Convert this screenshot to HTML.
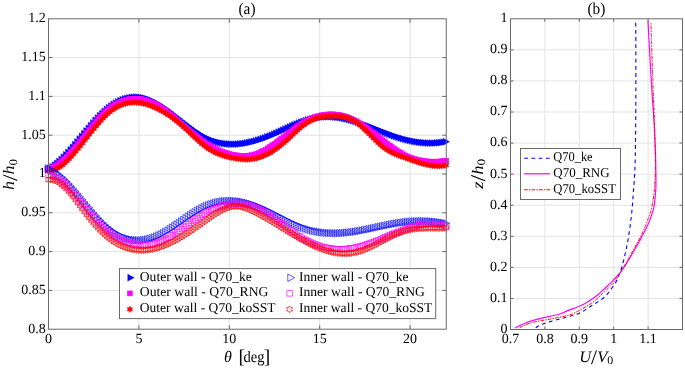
<!DOCTYPE html><html><head><meta charset="utf-8"><style>html,body{margin:0;padding:0;background:#fff;width:685px;height:368px;overflow:hidden}svg{display:block;will-change:transform}text{font-family:"Liberation Serif",serif;fill:#000;text-rendering:geometricPrecision}</style></head><body>
<svg width="685" height="368" viewBox="0 0 685 368">
<defs><marker id="mtf" markerUnits="userSpaceOnUse" markerWidth="1" markerHeight="1" refX="0" refY="0" overflow="visible"><polygon points="-3.20,-3.40 3.20,0 -3.20,3.40" fill="#0000ff" stroke="#0000ff" stroke-width="0.5"/></marker><marker id="msf" markerUnits="userSpaceOnUse" markerWidth="1" markerHeight="1" refX="0" refY="0" overflow="visible"><rect x="-2.5" y="-2.5" width="5.0" height="5.0" fill="#ff00ff" stroke="#ff00ff" stroke-width="0.5"/></marker><marker id="mhf" markerUnits="userSpaceOnUse" markerWidth="1" markerHeight="1" refX="0" refY="0" overflow="visible"><polygon points="0.00,-3.20 0.90,-1.56 2.77,-1.60 1.80,0.00 2.77,1.60 0.90,1.56 0.00,3.20 -0.90,1.56 -2.77,1.60 -1.80,0.00 -2.77,-1.60 -0.90,-1.56" fill="#ff0000" stroke="#ff0000" stroke-width="0.5"/></marker><marker id="mto" markerUnits="userSpaceOnUse" markerWidth="1" markerHeight="1" refX="0" refY="0" overflow="visible"><polygon points="-3.40,-3.70 3.40,0 -3.40,3.70" fill="none" stroke="#0000ff" stroke-width="0.65"/></marker><marker id="mso" markerUnits="userSpaceOnUse" markerWidth="1" markerHeight="1" refX="0" refY="0" overflow="visible"><rect x="-2.7" y="-2.7" width="5.4" height="5.4" fill="none" stroke="#ff00ff" stroke-width="0.65"/></marker><marker id="mho" markerUnits="userSpaceOnUse" markerWidth="1" markerHeight="1" refX="0" refY="0" overflow="visible"><polygon points="0.00,-3.50 1.00,-1.73 3.03,-1.75 2.00,0.00 3.03,1.75 1.00,1.73 0.00,3.50 -1.00,1.73 -3.03,1.75 -2.00,0.00 -3.03,-1.75 -1.00,-1.73" fill="none" stroke="#ff0000" stroke-width="0.65"/></marker><clipPath id="ca"><rect x="44" y="14" width="407" height="320"/></clipPath></defs>
<rect width="685" height="368" fill="#fff"/>
<path d="M138.90,18.80V329.20M229.30,18.80V329.20M319.70,18.80V329.20M410.10,18.80V329.20M48.50,290.40H446.26M48.50,251.60H446.26M48.50,212.80H446.26M48.50,174.00H446.26M48.50,135.20H446.26M48.50,96.40H446.26M48.50,57.60H446.26" stroke="#e3e3e3" stroke-width="1" fill="none"/>
<polyline points="48.50,169.45 50.76,168.24 53.02,166.82 55.28,165.22 57.54,163.43 59.80,161.49 62.06,159.40 64.32,157.18 66.58,154.84 68.84,152.40 71.10,149.88 73.36,147.28 75.62,144.62 77.88,141.92 80.14,139.19 82.40,136.44 84.66,133.70 86.92,130.97 89.18,128.28 91.44,125.62 93.70,123.03 95.96,120.51 98.22,118.08 100.48,115.75 102.74,113.54 105.00,111.47 107.26,109.52 109.52,107.72 111.78,106.05 114.04,104.52 116.30,103.13 118.56,101.88 120.82,100.77 123.08,99.80 125.34,98.98 127.60,98.31 129.86,97.78 132.12,97.40 134.38,97.17 136.64,97.09 138.90,97.16 141.16,97.38 143.42,97.76 145.68,98.29 147.94,98.98 150.20,99.80 152.46,100.76 154.72,101.85 156.98,103.04 159.24,104.34 161.50,105.73 163.76,107.21 166.02,108.76 168.28,110.37 170.54,112.04 172.80,113.75 175.06,115.49 177.32,117.26 179.58,119.03 181.84,120.82 184.10,122.59 186.36,124.35 188.62,126.09 190.88,127.79 193.14,129.44 195.40,131.03 197.66,132.56 199.92,134.01 202.18,135.38 204.44,136.65 206.70,137.82 208.96,138.87 211.22,139.83 213.48,140.68 215.74,141.43 218.00,142.09 220.26,142.65 222.52,143.12 224.78,143.49 227.04,143.79 229.30,143.99 231.56,144.12 233.82,144.17 236.08,144.13 238.34,144.03 240.60,143.85 242.86,143.60 245.12,143.29 247.38,142.91 249.64,142.47 251.90,141.97 254.16,141.41 256.42,140.80 258.68,140.13 260.94,139.42 263.20,138.66 265.46,137.86 267.72,137.01 269.98,136.12 272.24,135.20 274.50,134.24 276.76,133.25 279.02,132.23 281.28,131.20 283.54,130.15 285.80,129.10 288.06,128.05 290.32,127.02 292.58,126.00 294.84,125.00 297.10,124.04 299.36,123.11 301.62,122.24 303.88,121.41 306.14,120.65 308.40,119.95 310.66,119.32 312.92,118.75 315.18,118.26 317.44,117.83 319.70,117.47 321.96,117.18 324.22,116.97 326.48,116.83 328.74,116.76 331.00,116.76 333.26,116.84 335.52,117.00 337.78,117.23 340.04,117.54 342.30,117.91 344.56,118.35 346.82,118.84 349.08,119.40 351.34,120.00 353.60,120.65 355.86,121.35 358.12,122.08 360.38,122.85 362.64,123.65 364.90,124.48 367.16,125.33 369.42,126.20 371.68,127.08 373.94,127.98 376.20,128.88 378.46,129.78 380.72,130.68 382.98,131.58 385.24,132.46 387.50,133.33 389.76,134.18 392.02,135.01 394.28,135.81 396.54,136.59 398.80,137.32 401.06,138.03 403.32,138.69 405.58,139.32 407.84,139.91 410.10,140.45 412.36,140.95 414.62,141.40 416.88,141.80 419.14,142.16 421.40,142.46 423.66,142.70 425.92,142.89 428.18,143.02 430.44,143.09 432.70,143.10 434.96,143.05 437.22,142.93 439.48,142.74 441.74,142.48 444.00,142.15 446.26,141.75" fill="none" stroke="none" marker-start="url(#mtf)" marker-mid="url(#mtf)" marker-end="url(#mtf)"/>
<polyline points="48.50,168.94 50.76,168.25 53.02,167.30 55.28,166.09 57.54,164.64 59.80,162.98 62.06,161.12 64.32,159.08 66.58,156.87 68.84,154.52 71.10,152.05 73.36,149.47 75.62,146.80 77.88,144.06 80.14,141.26 82.40,138.43 84.66,135.59 86.92,132.75 89.18,129.93 91.44,127.15 93.70,124.43 95.96,121.78 98.22,119.23 100.48,116.78 102.74,114.48 105.00,112.31 107.26,110.32 109.52,108.49 111.78,106.82 114.04,105.32 116.30,103.97 118.56,102.78 120.82,101.75 123.08,100.88 125.34,100.15 127.60,99.58 129.86,99.15 132.12,98.87 134.38,98.74 136.64,98.75 138.90,98.90 141.16,99.19 143.42,99.62 145.68,100.18 147.94,100.87 150.20,101.70 152.46,102.66 154.72,103.74 156.98,104.95 159.24,106.28 161.50,107.71 163.76,109.25 166.02,110.87 168.28,112.56 170.54,114.33 172.80,116.15 175.06,118.02 177.32,119.93 179.58,121.87 181.84,123.82 184.10,125.78 186.36,127.75 188.62,129.70 190.88,131.63 193.14,133.53 195.40,135.39 197.66,137.20 199.92,138.95 202.18,140.63 204.44,142.22 206.70,143.73 208.96,145.15 211.22,146.48 213.48,147.71 215.74,148.86 218.00,149.92 220.26,150.89 222.52,151.78 224.78,152.58 227.04,153.29 229.30,153.93 231.56,154.48 233.82,154.95 236.08,155.33 238.34,155.64 240.60,155.85 242.86,155.95 245.12,155.94 247.38,155.82 249.64,155.56 251.90,155.16 254.16,154.61 256.42,153.90 258.68,153.04 260.94,152.04 263.20,150.90 265.46,149.65 267.72,148.30 269.98,146.85 272.24,145.32 274.50,143.72 276.76,142.07 279.02,140.37 281.28,138.64 283.54,136.90 285.80,135.14 288.06,133.39 290.32,131.66 292.58,129.95 294.84,128.29 297.10,126.69 299.36,125.15 301.62,123.69 303.88,122.32 306.14,121.05 308.40,119.89 310.66,118.84 312.92,117.90 315.18,117.08 317.44,116.36 319.70,115.75 321.96,115.25 324.22,114.86 326.48,114.58 328.74,114.42 331.00,114.36 333.26,114.41 335.52,114.58 337.78,114.85 340.04,115.24 342.30,115.73 344.56,116.34 346.82,117.06 349.08,117.89 351.34,118.83 353.60,119.88 355.86,121.04 358.12,122.31 360.38,123.67 362.64,125.12 364.90,126.65 367.16,128.25 369.42,129.90 371.68,131.59 373.94,133.32 376.20,135.08 378.46,136.85 380.72,138.63 382.98,140.40 385.24,142.15 387.50,143.88 389.76,145.57 392.02,147.22 394.28,148.80 396.54,150.33 398.80,151.77 401.06,153.13 403.32,154.39 405.58,155.54 407.84,156.58 410.10,157.50 412.36,158.33 414.62,159.05 416.88,159.67 419.14,160.21 421.40,160.65 423.66,161.01 425.92,161.29 428.18,161.49 430.44,161.62 432.70,161.69 434.96,161.69 437.22,161.63 439.48,161.51 441.74,161.35 444.00,161.14 446.26,160.88" fill="none" stroke="none" marker-start="url(#msf)" marker-mid="url(#msf)" marker-end="url(#msf)"/>
<polyline points="48.50,171.31 50.76,170.97 53.02,170.33 55.28,169.41 57.54,168.22 59.80,166.78 62.06,165.12 64.32,163.25 66.58,161.19 68.84,158.96 71.10,156.59 73.36,154.08 75.62,151.46 77.88,148.75 80.14,145.97 82.40,143.14 84.66,140.27 86.92,137.39 89.18,134.51 91.44,131.66 93.70,128.85 95.96,126.10 98.22,123.43 100.48,120.87 102.74,118.43 105.00,116.12 107.26,113.98 109.52,112.01 111.78,110.24 114.04,108.67 116.30,107.28 118.56,106.08 120.82,105.07 123.08,104.22 125.34,103.54 127.60,103.03 129.86,102.66 132.12,102.45 134.38,102.39 136.64,102.46 138.90,102.66 141.16,102.99 143.42,103.44 145.68,104.01 147.94,104.68 150.20,105.46 152.46,106.33 154.72,107.30 156.98,108.35 159.24,109.48 161.50,110.70 163.76,112.00 166.02,113.38 168.28,114.84 170.54,116.38 172.80,118.00 175.06,119.69 177.32,121.46 179.58,123.31 181.84,125.23 184.10,127.22 186.36,129.28 188.62,131.40 190.88,133.55 193.14,135.71 195.40,137.85 197.66,139.94 199.92,141.96 202.18,143.89 204.44,145.69 206.70,147.36 208.96,148.87 211.22,150.25 213.48,151.49 215.74,152.61 218.00,153.62 220.26,154.51 222.52,155.31 224.78,156.02 227.04,156.64 229.30,157.19 231.56,157.67 233.82,158.10 236.08,158.47 238.34,158.78 240.60,159.04 242.86,159.22 245.12,159.31 247.38,159.32 249.64,159.21 251.90,159.00 254.16,158.66 256.42,158.19 258.68,157.58 260.94,156.84 263.20,155.97 265.46,154.97 267.72,153.86 269.98,152.62 272.24,151.27 274.50,149.80 276.76,148.23 279.02,146.55 281.28,144.77 283.54,142.89 285.80,140.92 288.06,138.86 290.32,136.76 292.58,134.63 294.84,132.52 297.10,130.45 299.36,128.46 301.62,126.58 303.88,124.83 306.14,123.26 308.40,121.86 310.66,120.64 312.92,119.58 315.18,118.67 317.44,117.91 319.70,117.29 321.96,116.79 324.22,116.41 326.48,116.14 328.74,115.97 331.00,115.89 333.26,115.89 335.52,115.96 337.78,116.11 340.04,116.34 342.30,116.68 344.56,117.15 346.82,117.76 349.08,118.54 351.34,119.51 353.60,120.68 355.86,122.08 358.12,123.70 360.38,125.51 362.64,127.48 364.90,129.57 367.16,131.76 369.42,134.00 371.68,136.26 373.94,138.52 376.20,140.73 378.46,142.86 380.72,144.89 382.98,146.77 385.24,148.48 387.50,149.99 389.76,151.33 392.02,152.51 394.28,153.56 396.54,154.52 398.80,155.39 401.06,156.22 403.32,157.01 405.58,157.81 407.84,158.62 410.10,159.43 412.36,160.23 414.62,161.02 416.88,161.79 419.14,162.52 421.40,163.20 423.66,163.84 425.92,164.41 428.18,164.91 430.44,165.33 432.70,165.66 434.96,165.89 437.22,166.01 439.48,166.02 441.74,165.89 444.00,165.63 446.26,165.22" fill="none" stroke="none" marker-start="url(#mhf)" marker-mid="url(#mhf)" marker-end="url(#mhf)"/>
<polyline points="48.50,168.40 50.76,169.34 53.02,170.50 55.28,171.88 57.54,173.45 59.80,175.21 62.06,177.13 64.32,179.21 66.58,181.43 68.84,183.76 71.10,186.20 73.36,188.73 75.62,191.33 77.88,194.00 80.14,196.70 82.40,199.43 84.66,202.17 86.92,204.91 89.18,207.63 91.44,210.32 93.70,212.95 95.96,215.52 98.22,218.00 100.48,220.39 102.74,222.66 105.00,224.80 107.26,226.81 109.52,228.67 111.78,230.38 114.04,231.96 116.30,233.40 118.56,234.69 120.82,235.85 123.08,236.87 125.34,237.76 127.60,238.51 129.86,239.12 132.12,239.61 134.38,239.96 136.64,240.18 138.90,240.28 141.16,240.24 143.42,240.08 145.68,239.79 147.94,239.38 150.20,238.84 152.46,238.18 154.72,237.39 156.98,236.49 159.24,235.48 161.50,234.36 163.76,233.15 166.02,231.86 168.28,230.50 170.54,229.08 172.80,227.60 175.06,226.09 177.32,224.54 179.58,222.97 181.84,221.39 184.10,219.81 186.36,218.23 188.62,216.67 190.88,215.15 193.14,213.66 195.40,212.22 197.66,210.84 199.92,209.52 202.18,208.29 204.44,207.14 206.70,206.10 208.96,205.15 211.22,204.30 213.48,203.55 215.74,202.89 218.00,202.33 220.26,201.87 222.52,201.49 224.78,201.20 227.04,201.00 229.30,200.89 231.56,200.86 233.82,200.92 236.08,201.06 238.34,201.27 240.60,201.57 242.86,201.94 245.12,202.40 247.38,202.92 249.64,203.52 251.90,204.19 254.16,204.92 256.42,205.73 258.68,206.60 260.94,207.53 263.20,208.51 265.46,209.53 267.72,210.59 269.98,211.69 272.24,212.81 274.50,213.95 276.76,215.11 279.02,216.27 281.28,217.44 283.54,218.60 285.80,219.75 288.06,220.89 290.32,222.00 292.58,223.09 294.84,224.14 297.10,225.14 299.36,226.10 301.62,227.01 303.88,227.86 306.14,228.64 308.40,229.35 310.66,230.00 312.92,230.58 315.18,231.10 317.44,231.56 319.70,231.96 321.96,232.30 324.22,232.58 326.48,232.81 328.74,232.99 331.00,233.11 333.26,233.19 335.52,233.22 337.78,233.20 340.04,233.14 342.30,233.03 344.56,232.89 346.82,232.70 349.08,232.48 351.34,232.22 353.60,231.93 355.86,231.60 358.12,231.25 360.38,230.87 362.64,230.46 364.90,230.03 367.16,229.59 369.42,229.13 371.68,228.66 373.94,228.18 376.20,227.69 378.46,227.20 380.72,226.71 382.98,226.22 385.24,225.74 387.50,225.26 389.76,224.80 392.02,224.36 394.28,223.93 396.54,223.52 398.80,223.14 401.06,222.78 403.32,222.45 405.58,222.16 407.84,221.90 410.10,221.68 412.36,221.49 414.62,221.34 416.88,221.22 419.14,221.14 421.40,221.11 423.66,221.10 425.92,221.14 428.18,221.22 430.44,221.34 432.70,221.50 434.96,221.69 437.22,221.93 439.48,222.22 441.74,222.54 444.00,222.91 446.26,223.32" fill="none" stroke="none" marker-start="url(#mto)" marker-mid="url(#mto)" marker-end="url(#mto)"/>
<polyline points="48.50,174.91 50.76,175.31 53.02,176.02 55.28,177.00 57.54,178.25 59.80,179.74 62.06,181.46 64.32,183.37 66.58,185.47 68.84,187.73 71.10,190.13 73.36,192.65 75.62,195.27 77.88,197.98 80.14,200.75 82.40,203.56 84.66,206.39 86.92,209.22 89.18,212.04 91.44,214.82 93.70,217.53 95.96,220.17 98.22,222.72 100.48,225.14 102.74,227.42 105.00,229.55 107.26,231.50 109.52,233.29 111.78,234.91 114.04,236.37 116.30,237.69 118.56,238.87 120.82,239.92 123.08,240.84 125.34,241.66 127.60,242.36 129.86,242.97 132.12,243.48 134.38,243.91 136.64,244.27 138.90,244.55 141.16,244.74 143.42,244.83 145.68,244.82 147.94,244.70 150.20,244.46 152.46,244.10 154.72,243.59 156.98,242.95 159.24,242.17 161.50,241.26 163.76,240.24 166.02,239.12 168.28,237.89 170.54,236.59 172.80,235.21 175.06,233.76 177.32,232.26 179.58,230.71 181.84,229.14 184.10,227.53 186.36,225.91 188.62,224.29 190.88,222.68 193.14,221.08 195.40,219.51 197.66,217.97 199.92,216.48 202.18,215.05 204.44,213.69 206.70,212.40 208.96,211.19 211.22,210.07 213.48,209.03 215.74,208.08 218.00,207.21 220.26,206.44 222.52,205.76 224.78,205.17 227.04,204.68 229.30,204.29 231.56,204.00 233.82,203.80 236.08,203.71 238.34,203.73 240.60,203.85 242.86,204.08 245.12,204.41 247.38,204.86 249.64,205.43 251.90,206.11 254.16,206.91 256.42,207.82 258.68,208.85 260.94,209.98 263.20,211.21 265.46,212.53 267.72,213.92 269.98,215.38 272.24,216.89 274.50,218.45 276.76,220.06 279.02,221.69 281.28,223.34 283.54,225.00 285.80,226.67 288.06,228.33 290.32,229.97 292.58,231.58 294.84,233.16 297.10,234.69 299.36,236.17 301.62,237.58 303.88,238.92 306.14,240.18 308.40,241.35 310.66,242.44 312.92,243.44 315.18,244.36 317.44,245.19 319.70,245.94 321.96,246.61 324.22,247.20 326.48,247.70 328.74,248.13 331.00,248.48 333.26,248.76 335.52,248.95 337.78,249.07 340.04,249.12 342.30,249.09 344.56,248.99 346.82,248.81 349.08,248.57 351.34,248.25 353.60,247.86 355.86,247.41 358.12,246.89 360.38,246.31 362.64,245.67 364.90,244.97 367.16,244.23 369.42,243.45 371.68,242.63 373.94,241.78 376.20,240.90 378.46,240.00 380.72,239.08 382.98,238.14 385.24,237.20 387.50,236.25 389.76,235.31 392.02,234.37 394.28,233.44 396.54,232.53 398.80,231.63 401.06,230.76 403.32,229.92 405.58,229.12 407.84,228.36 410.10,227.64 412.36,226.97 414.62,226.35 416.88,225.79 419.14,225.30 421.40,224.87 423.66,224.52 425.92,224.24 428.18,224.05 430.44,223.95 432.70,223.94 434.96,224.02 437.22,224.21 439.48,224.51 441.74,224.91 444.00,225.44 446.26,226.08" fill="none" stroke="none" marker-start="url(#mso)" marker-mid="url(#mso)" marker-end="url(#mso)"/>
<polyline points="48.50,179.72 50.76,179.53 53.02,179.80 55.28,180.49 57.54,181.57 59.80,182.99 62.06,184.73 64.32,186.76 66.58,189.03 68.84,191.51 71.10,194.17 73.36,196.97 75.62,199.88 77.88,202.86 80.14,205.88 82.40,208.90 84.66,211.89 86.92,214.82 89.18,217.67 91.44,220.43 93.70,223.10 95.96,225.66 98.22,228.11 100.48,230.45 102.74,232.66 105.00,234.73 107.26,236.67 109.52,238.46 111.78,240.12 114.04,241.64 116.30,243.03 118.56,244.29 120.82,245.42 123.08,246.42 125.34,247.30 127.60,248.06 129.86,248.70 132.12,249.23 134.38,249.64 136.64,249.94 138.90,250.12 141.16,250.21 143.42,250.18 145.68,250.06 147.94,249.83 150.20,249.51 152.46,249.09 154.72,248.58 156.98,247.98 159.24,247.29 161.50,246.52 163.76,245.67 166.02,244.74 168.28,243.75 170.54,242.68 172.80,241.55 175.06,240.37 177.32,239.12 179.58,237.83 181.84,236.49 184.10,235.10 186.36,233.68 188.62,232.22 190.88,230.73 193.14,229.21 195.40,227.66 197.66,226.10 199.92,224.52 202.18,222.93 204.44,221.33 206.70,219.73 208.96,218.13 211.22,216.57 213.48,215.05 215.74,213.59 218.00,212.21 220.26,210.93 222.52,209.77 224.78,208.74 227.04,207.87 229.30,207.16 231.56,206.64 233.82,206.32 236.08,206.23 238.34,206.36 240.60,206.69 242.86,207.19 245.12,207.85 247.38,208.65 249.64,209.56 251.90,210.57 254.16,211.65 256.42,212.78 258.68,213.96 260.94,215.17 263.20,216.42 265.46,217.70 267.72,219.00 269.98,220.33 272.24,221.68 274.50,223.05 276.76,224.43 279.02,225.82 281.28,227.21 283.54,228.60 285.80,230.00 288.06,231.38 290.32,232.76 292.58,234.13 294.84,235.47 297.10,236.80 299.36,238.11 301.62,239.38 303.88,240.63 306.14,241.84 308.40,243.01 310.66,244.14 312.92,245.23 315.18,246.26 317.44,247.24 319.70,248.17 321.96,249.03 324.22,249.83 326.48,250.57 328.74,251.23 331.00,251.81 333.26,252.32 335.52,252.75 337.78,253.09 340.04,253.34 342.30,253.49 344.56,253.55 346.82,253.51 349.08,253.36 351.34,253.11 353.60,252.74 355.86,252.26 358.12,251.67 360.38,250.97 362.64,250.18 364.90,249.31 367.16,248.36 369.42,247.35 371.68,246.28 373.94,245.17 376.20,244.03 378.46,242.86 380.72,241.68 382.98,240.50 385.24,239.32 387.50,238.16 389.76,237.02 392.02,235.92 394.28,234.87 396.54,233.87 398.80,232.94 401.06,232.09 403.32,231.32 405.58,230.64 407.84,230.07 410.10,229.58 412.36,229.19 414.62,228.86 416.88,228.61 419.14,228.42 421.40,228.27 423.66,228.18 425.92,228.12 428.18,228.09 430.44,228.07 432.70,228.08 434.96,228.08 437.22,228.09 439.48,228.08 441.74,228.05 444.00,228.00 446.26,227.91" fill="none" stroke="none" marker-start="url(#mho)" marker-mid="url(#mho)" marker-end="url(#mho)"/>
<path d="M138.90,329.20v-4M138.90,18.80v4M229.30,329.20v-4M229.30,18.80v4M319.70,329.20v-4M319.70,18.80v4M410.10,329.20v-4M410.10,18.80v4M48.50,290.40h4M446.26,290.40h-4M48.50,251.60h4M446.26,251.60h-4M48.50,212.80h4M446.26,212.80h-4M48.50,174.00h4M446.26,174.00h-4M48.50,135.20h4M446.26,135.20h-4M48.50,96.40h4M446.26,96.40h-4M48.50,57.60h4M446.26,57.60h-4" stroke="#6a6a6a" stroke-width="1" fill="none"/>
<rect x="48.50" y="18.80" width="397.76" height="310.40" stroke="#6a6a6a" stroke-width="1" fill="none"/>
<text x="48.5" y="343.4" font-size="14" text-anchor="middle">0</text>
<text x="138.9" y="343.4" font-size="14" text-anchor="middle">5</text>
<text x="229.3" y="343.4" font-size="14" text-anchor="middle">10</text>
<text x="319.7" y="343.4" font-size="14" text-anchor="middle">15</text>
<text x="410.1" y="343.4" font-size="14" text-anchor="middle">20</text>
<text x="45.8" y="332.5" font-size="14" text-anchor="end">0.8</text>
<text x="45.8" y="293.7" font-size="14" text-anchor="end">0.85</text>
<text x="45.8" y="254.9" font-size="14" text-anchor="end">0.9</text>
<text x="45.8" y="216.1" font-size="14" text-anchor="end">0.95</text>
<text x="45.8" y="177.3" font-size="14" text-anchor="end">1</text>
<text x="45.8" y="138.5" font-size="14" text-anchor="end">1.05</text>
<text x="45.8" y="99.7" font-size="14" text-anchor="end">1.1</text>
<text x="45.8" y="60.9" font-size="14" text-anchor="end">1.15</text>
<text x="45.8" y="22.1" font-size="14" text-anchor="end">1.2</text>
<text x="238.5" y="13.8" font-size="16.5" textLength="17" lengthAdjust="spacingAndGlyphs">(a)</text>
<text x="224" y="361.7" font-size="16" font-style="italic">θ</text>
<text x="238.6" y="362.7" font-size="19.5">[</text>
<text x="243.6" y="361.7" font-size="16" textLength="21" lengthAdjust="spacingAndGlyphs">deg</text>
<text x="263.8" y="362.7" font-size="19.5">]</text>
<text transform="translate(14.2,190) rotate(-90)" font-size="16" textLength="31" lengthAdjust="spacingAndGlyphs"><tspan font-style="italic">h</tspan><tspan font-size="21" dy="2.6">/</tspan><tspan font-style="italic" dy="-2.6">h</tspan><tspan font-size="11.5" dy="2.5">0</tspan></text>
<rect x="119.5" y="268.6" width="316.2" height="50" fill="#fff" stroke="#6a6a6a" stroke-width="1"/>
<polyline points="131,277.7 131.001,277.7" fill="none" stroke="none" marker-start="url(#mtf)"/>
<text x="139.8" y="280.5" font-size="13.5" textLength="112" lengthAdjust="spacingAndGlyphs">Outer wall - Q70_ke</text>
<polyline points="129.9,293.4 129.901,293.4" fill="none" stroke="none" marker-start="url(#msf)"/>
<text x="139.8" y="296.3" font-size="13.5" textLength="128.6" lengthAdjust="spacingAndGlyphs">Outer wall - Q70_RNG</text>
<polyline points="129.9,309.3 129.901,309.3" fill="none" stroke="none" marker-start="url(#mhf)"/>
<text x="139.8" y="312.1" font-size="13.5" textLength="135.8" lengthAdjust="spacingAndGlyphs">Outer wall - Q70_koSST</text>
<polyline points="291.2,277.7 291.20099999999996,277.7" fill="none" stroke="none" marker-start="url(#mto)"/>
<text x="298.9" y="280.5" font-size="13.5" textLength="109.7" lengthAdjust="spacingAndGlyphs">Inner wall - Q70_ke</text>
<polyline points="289.6,293.4 289.601,293.4" fill="none" stroke="none" marker-start="url(#mso)"/>
<text x="298.9" y="296.3" font-size="13.5" textLength="126" lengthAdjust="spacingAndGlyphs">Inner wall - Q70_RNG</text>
<polyline points="289.6,309.3 289.601,309.3" fill="none" stroke="none" marker-start="url(#mho)"/>
<text x="298.9" y="312.1" font-size="13.5" textLength="133.5" lengthAdjust="spacingAndGlyphs">Inner wall - Q70_koSST</text>
<path d="M544.90,18.80V329.50M579.30,18.80V329.50M613.70,18.80V329.50M648.10,18.80V329.50M510.50,298.43H682.50M510.50,267.36H682.50M510.50,236.29H682.50M510.50,205.22H682.50M510.50,174.15H682.50M510.50,143.08H682.50M510.50,112.01H682.50M510.50,80.94H682.50M510.50,49.87H682.50" stroke="#e3e3e3" stroke-width="1" fill="none"/>
<polyline points="535.78,327.79 537.12,326.77 538.95,325.74 541.15,324.71 543.64,323.69 546.44,322.66 550.05,321.63 553.86,320.61 557.65,319.58 561.51,318.56 565.24,317.53 568.96,316.50 572.68,315.48 576.06,314.45 578.78,313.43 580.97,312.40 582.90,311.37 584.64,310.35 586.23,309.32 587.74,308.29 589.21,307.27 590.71,306.24 592.28,305.22 593.93,304.19 595.63,303.16 597.33,302.14 599.00,301.11 600.60,300.09 602.09,299.06 603.44,298.03 604.60,297.01 605.64,295.98 606.58,294.95 607.46,293.93 608.28,292.90 609.07,291.88 609.82,290.85 610.57,289.82 611.33,288.80 612.09,287.77 612.85,286.75 613.60,285.72 614.33,284.69 615.02,283.67 615.65,282.64 616.23,281.61 616.74,280.59 617.17,279.56 617.56,278.54 617.92,277.51 618.28,276.48 618.67,275.46 619.10,274.43 619.55,273.41 620.01,272.38 620.43,271.35 620.81,270.33 621.16,269.30 621.49,268.27 621.81,267.25 622.11,266.22 622.41,265.20 622.68,264.17 622.95,263.14 623.22,262.12 623.47,261.09 623.73,260.07 623.98,259.04 624.23,258.01 624.47,256.99 624.72,255.96 624.95,254.94 625.19,253.91 625.42,252.88 625.64,251.86 625.87,250.83 626.09,249.80 626.30,248.78 626.51,247.75 626.72,246.73 626.93,245.70 627.13,244.67 627.32,243.65 627.51,242.62 627.70,241.60 627.89,240.57 628.07,239.54 628.24,238.52 628.41,237.49 628.58,236.46 628.74,235.44 628.91,234.41 629.07,233.39 629.22,232.36 629.38,231.33 629.53,230.31 629.68,229.28 629.83,228.26 629.97,227.23 630.11,226.20 630.25,225.18 630.39,224.15 630.52,223.12 630.65,222.10 630.78,221.07 630.91,220.05 631.03,219.02 631.15,217.99 631.27,216.97 631.38,215.94 631.49,214.92 631.60,213.89 631.70,212.86 631.81,211.84 631.90,210.81 632.00,209.78 632.09,208.76 632.18,207.73 632.27,206.71 632.36,205.68 632.44,204.65 632.52,203.63 632.60,202.60 632.68,201.58 632.75,200.55 632.83,199.52 632.90,198.50 632.98,197.47 633.05,196.45 633.13,195.42 633.21,194.39 633.29,193.37 633.37,192.34 633.44,191.31 633.52,190.29 633.60,189.26 633.68,188.24 633.75,187.21 633.83,186.18 633.91,185.16 633.98,184.13 634.06,183.11 634.13,182.08 634.20,181.05 634.27,180.03 634.34,179.00 634.41,177.97 634.47,176.95 634.54,175.92 634.60,174.90 634.66,173.87 634.72,172.84 634.77,171.82 634.82,170.79 634.87,169.77 634.92,168.74 634.97,167.71 635.01,166.69 635.05,165.66 635.08,164.63 635.12,163.61 635.14,162.58 635.17,161.56 635.19,160.53 635.21,159.50 635.23,158.48 635.24,157.45 635.26,156.43 635.28,155.40 635.29,154.37 635.31,153.35 635.33,152.32 635.34,151.29 635.36,150.27 635.37,149.24 635.39,148.22 635.41,147.19 635.42,146.16 635.43,145.14 635.45,144.11 635.46,143.09 635.48,142.06 635.49,141.03 635.51,140.01 635.52,138.98 635.53,137.96 635.55,136.93 635.56,135.90 635.57,134.88 635.58,133.85 635.60,132.82 635.61,131.80 635.62,130.77 635.63,129.75 635.64,128.72 635.65,127.69 635.66,126.67 635.67,125.64 635.68,124.62 635.69,123.59 635.70,122.56 635.71,121.54 635.72,120.51 635.73,119.48 635.74,118.46 635.75,117.43 635.76,116.41 635.77,115.38 635.77,114.35 635.78,113.33 635.79,112.30 635.80,111.28 635.80,110.25 635.81,109.22 635.82,108.20 635.82,107.17 635.83,106.14 635.83,105.12 635.84,104.09 635.84,103.07 635.85,102.04 635.85,101.01 635.86,99.99 635.86,98.96 635.87,97.94 635.87,96.91 635.87,95.88 635.87,94.86 635.88,93.83 635.88,92.80 635.88,91.78 635.88,90.75 635.88,89.73 635.89,88.70 635.89,87.67 635.89,86.65 635.89,85.62 635.89,84.60 635.89,83.57 635.89,82.54 635.89,81.52 635.89,80.49 635.89,79.46 635.89,78.44 635.89,77.41 635.89,76.39 635.89,75.36 635.89,74.33 635.89,73.31 635.89,72.28 635.89,71.26 635.89,70.23 635.89,69.20 635.88,68.18 635.88,67.15 635.88,66.13 635.88,65.10 635.88,64.07 635.88,63.05 635.88,62.02 635.88,60.99 635.88,59.97 635.88,58.94 635.87,57.92 635.87,56.89 635.87,55.86 635.87,54.84 635.87,53.81 635.87,52.79 635.86,51.76 635.86,50.73 635.86,49.71 635.86,48.68 635.85,47.65 635.85,46.63 635.85,45.60 635.84,44.58 635.84,43.55 635.84,42.52 635.83,41.50 635.83,40.47 635.83,39.45 635.82,38.42 635.82,37.39 635.81,36.37 635.81,35.34 635.80,34.31 635.80,33.29 635.79,32.26 635.79,31.24 635.78,30.21 635.77,29.18 635.77,28.16 635.76,27.13 635.75,26.11 635.75,25.08 635.74,24.05 635.73,23.03 635.72,22.00 635.72,20.97" fill="none" stroke="#0000ff" stroke-width="1.1" stroke-dasharray="3.8,3.4"/>
<polyline points="515.32,328.10 517.02,327.07 518.94,326.05 521.06,325.02 523.33,323.99 525.80,322.96 528.55,321.93 531.57,320.90 534.98,319.88 538.81,318.85 542.93,317.82 547.47,316.79 552.66,315.76 557.39,314.74 560.73,313.71 563.31,312.68 565.54,311.65 567.72,310.62 570.18,309.59 573.11,308.57 576.15,307.54 578.78,306.51 581.01,305.48 583.08,304.45 585.03,303.43 586.85,302.40 588.56,301.37 590.18,300.34 591.72,299.31 593.19,298.28 594.59,297.26 595.92,296.23 597.20,295.20 598.43,294.17 599.62,293.14 600.78,292.11 601.91,291.09 603.03,290.06 604.13,289.03 605.24,288.00 606.35,286.97 607.44,285.95 608.51,284.92 609.56,283.89 610.60,282.86 611.61,281.83 612.61,280.80 613.59,279.78 614.56,278.75 615.53,277.72 616.50,276.69 617.44,275.66 618.36,274.64 619.25,273.61 620.09,272.58 620.89,271.55 621.65,270.52 622.40,269.49 623.12,268.47 623.83,267.44 624.53,266.41 625.21,265.38 625.87,264.35 626.53,263.33 627.17,262.30 627.80,261.27 628.42,260.24 629.04,259.21 629.65,258.18 630.26,257.16 630.86,256.13 631.46,255.10 632.06,254.07 632.66,253.04 633.26,252.02 633.86,250.99 634.46,249.96 635.06,248.93 635.65,247.90 636.24,246.87 636.83,245.85 637.41,244.82 637.99,243.79 638.56,242.76 639.12,241.73 639.68,240.71 640.24,239.68 640.78,238.65 641.33,237.62 641.86,236.59 642.39,235.56 642.92,234.54 643.45,233.51 643.99,232.48 644.52,231.45 645.06,230.42 645.59,229.40 646.11,228.37 646.63,227.34 647.13,226.31 647.62,225.28 648.10,224.25 648.55,223.23 648.99,222.20 649.41,221.17 649.80,220.14 650.17,219.11 650.53,218.08 650.89,217.06 651.25,216.03 651.61,215.00 651.95,213.97 652.29,212.94 652.61,211.92 652.92,210.89 653.21,209.86 653.48,208.83 653.73,207.80 653.95,206.77 654.15,205.75 654.32,204.72 654.46,203.69 654.58,202.66 654.70,201.63 654.82,200.61 654.93,199.58 655.04,198.55 655.15,197.52 655.25,196.49 655.34,195.46 655.43,194.44 655.52,193.41 655.59,192.38 655.67,191.35 655.73,190.32 655.79,189.30 655.84,188.27 655.88,187.24 655.91,186.21 655.93,185.18 655.94,184.15 655.94,183.13 655.94,182.10 655.94,181.07 655.93,180.04 655.93,179.01 655.92,177.99 655.91,176.96 655.91,175.93 655.90,174.90 655.88,173.87 655.87,172.84 655.86,171.82 655.85,170.79 655.83,169.76 655.82,168.73 655.80,167.70 655.78,166.68 655.77,165.65 655.75,164.62 655.73,163.59 655.71,162.56 655.70,161.53 655.68,160.51 655.66,159.48 655.64,158.45 655.61,157.42 655.59,156.39 655.56,155.36 655.53,154.34 655.50,153.31 655.46,152.28 655.43,151.25 655.39,150.22 655.35,149.20 655.31,148.17 655.26,147.14 655.22,146.11 655.17,145.08 655.13,144.05 655.08,143.03 655.03,142.00 654.98,140.97 654.93,139.94 654.88,138.91 654.83,137.89 654.77,136.86 654.72,135.83 654.67,134.80 654.61,133.77 654.56,132.74 654.51,131.72 654.45,130.69 654.40,129.66 654.35,128.63 654.29,127.60 654.24,126.58 654.19,125.55 654.13,124.52 654.07,123.49 654.02,122.46 653.96,121.43 653.89,120.41 653.83,119.38 653.77,118.35 653.70,117.32 653.64,116.29 653.57,115.27 653.51,114.24 653.44,113.21 653.37,112.18 653.30,111.15 653.23,110.12 653.16,109.10 653.09,108.07 653.02,107.04 652.95,106.01 652.88,104.98 652.80,103.96 652.73,102.93 652.66,101.90 652.59,100.87 652.52,99.84 652.45,98.81 652.38,97.79 652.30,96.76 652.23,95.73 652.16,94.70 652.10,93.67 652.03,92.64 651.96,91.62 651.89,90.59 651.82,89.56 651.76,88.53 651.69,87.50 651.63,86.48 651.57,85.45 651.51,84.42 651.45,83.39 651.38,82.36 651.32,81.33 651.26,80.31 651.20,79.28 651.14,78.25 651.08,77.22 651.02,76.19 650.96,75.17 650.90,74.14 650.84,73.11 650.78,72.08 650.72,71.05 650.66,70.02 650.60,69.00 650.54,67.97 650.48,66.94 650.42,65.91 650.36,64.88 650.30,63.86 650.25,62.83 650.19,61.80 650.13,60.77 650.07,59.74 650.01,58.71 649.96,57.69 649.90,56.66 649.84,55.63 649.78,54.60 649.73,53.57 649.67,52.55 649.61,51.52 649.56,50.49 649.50,49.46 649.44,48.43 649.39,47.40 649.33,46.38 649.27,45.35 649.22,44.32 649.16,43.29 649.11,42.26 649.05,41.24 649.00,40.21 648.94,39.18 648.89,38.15 648.84,37.12 648.78,36.09 648.73,35.07 648.67,34.04 648.62,33.01 648.57,31.98 648.52,30.95 648.46,29.92 648.41,28.90 648.36,27.87 648.31,26.84 648.25,25.81 648.20,24.78 648.15,23.76 648.10,22.73 648.05,21.70 648.00,20.67" fill="none" stroke="#ff00ff" stroke-width="1.2"/>
<polyline points="519.62,327.79 521.28,326.77 523.39,325.75 525.85,324.73 528.56,323.70 531.74,322.68 535.67,321.66 541.40,320.64 547.35,319.62 552.62,318.59 557.63,317.57 562.71,316.55 567.65,315.53 571.08,314.51 573.52,313.48 575.52,312.46 577.34,311.44 579.22,310.42 581.13,309.40 583.01,308.37 584.84,307.35 586.61,306.33 588.31,305.31 589.92,304.29 591.43,303.26 592.83,302.24 594.16,301.22 595.42,300.20 596.62,299.18 597.78,298.15 598.89,297.13 599.98,296.11 601.05,295.09 602.10,294.07 603.15,293.04 604.19,292.02 605.25,291.00 606.33,289.98 607.43,288.96 608.54,287.93 609.63,286.91 610.70,285.89 611.73,284.87 612.70,283.85 613.60,282.82 614.42,281.80 615.19,280.78 615.92,279.76 616.61,278.74 617.27,277.71 617.92,276.69 618.55,275.67 619.18,274.65 619.80,273.63 620.43,272.60 621.06,271.58 621.67,270.56 622.28,269.54 622.89,268.52 623.48,267.49 624.07,266.47 624.66,265.45 625.24,264.43 625.81,263.41 626.39,262.38 626.96,261.36 627.52,260.34 628.09,259.32 628.65,258.30 629.21,257.27 629.78,256.25 630.34,255.23 630.90,254.21 631.47,253.19 632.03,252.16 632.60,251.14 633.18,250.12 633.75,249.10 634.34,248.08 634.92,247.05 635.50,246.03 636.08,245.01 636.66,243.99 637.23,242.97 637.80,241.94 638.36,240.92 638.91,239.90 639.44,238.88 639.96,237.86 640.47,236.83 640.96,235.81 641.45,234.79 641.93,233.77 642.41,232.75 642.88,231.72 643.34,230.70 643.79,229.68 644.24,228.66 644.68,227.64 645.10,226.61 645.52,225.59 645.93,224.57 646.33,223.55 646.71,222.53 647.09,221.50 647.46,220.48 647.83,219.46 648.21,218.44 648.58,217.42 648.95,216.39 649.31,215.37 649.67,214.35 650.01,213.33 650.35,212.31 650.67,211.28 650.98,210.26 651.27,209.24 651.55,208.22 651.80,207.20 652.03,206.17 652.24,205.15 652.43,204.13 652.60,203.11 652.77,202.09 652.93,201.07 653.08,200.04 653.24,199.02 653.38,198.00 653.53,196.98 653.66,195.96 653.79,194.93 653.92,193.91 654.03,192.89 654.15,191.87 654.25,190.85 654.35,189.82 654.44,188.80 654.53,187.78 654.61,186.76 654.68,185.74 654.74,184.71 654.80,183.69 654.85,182.67 654.90,181.65 654.95,180.63 654.99,179.60 655.04,178.58 655.09,177.56 655.13,176.54 655.17,175.52 655.21,174.49 655.24,173.47 655.27,172.45 655.30,171.43 655.33,170.41 655.35,169.38 655.37,168.36 655.38,167.34 655.39,166.32 655.39,165.30 655.39,164.27 655.39,163.25 655.39,162.23 655.38,161.21 655.37,160.19 655.36,159.16 655.35,158.14 655.34,157.12 655.33,156.10 655.31,155.08 655.29,154.05 655.28,153.03 655.26,152.01 655.24,150.99 655.22,149.97 655.20,148.94 655.17,147.92 655.15,146.90 655.13,145.88 655.10,144.86 655.08,143.83 655.05,142.81 655.02,141.79 655.00,140.77 654.97,139.75 654.94,138.72 654.91,137.70 654.89,136.68 654.86,135.66 654.83,134.64 654.80,133.61 654.77,132.59 654.74,131.57 654.72,130.55 654.69,129.53 654.66,128.50 654.63,127.48 654.61,126.46 654.58,125.44 654.55,124.42 654.52,123.39 654.48,122.37 654.45,121.35 654.41,120.33 654.38,119.31 654.34,118.28 654.30,117.26 654.27,116.24 654.23,115.22 654.19,114.20 654.15,113.17 654.10,112.15 654.06,111.13 654.02,110.11 653.98,109.09 653.93,108.06 653.89,107.04 653.85,106.02 653.80,105.00 653.76,103.98 653.71,102.95 653.67,101.93 653.63,100.91 653.58,99.89 653.54,98.87 653.49,97.84 653.45,96.82 653.41,95.80 653.37,94.78 653.32,93.76 653.28,92.73 653.24,91.71 653.20,90.69 653.16,89.67 653.12,88.65 653.08,87.62 653.04,86.60 653.01,85.58 652.97,84.56 652.93,83.54 652.90,82.51 652.86,81.49 652.83,80.47 652.79,79.45 652.76,78.43 652.72,77.40 652.69,76.38 652.65,75.36 652.62,74.34 652.58,73.32 652.55,72.29 652.51,71.27 652.48,70.25 652.44,69.23 652.41,68.21 652.37,67.19 652.34,66.16 652.30,65.14 652.27,64.12 652.24,63.10 652.20,62.08 652.17,61.05 652.14,60.03 652.10,59.01 652.07,57.99 652.04,56.97 652.00,55.94 651.97,54.92 651.94,53.90 651.90,52.88 651.87,51.86 651.84,50.83 651.81,49.81 651.78,48.79 651.74,47.77 651.71,46.75 651.68,45.72 651.65,44.70 651.62,43.68 651.59,42.66 651.55,41.64 651.52,40.61 651.49,39.59 651.46,38.57 651.43,37.55 651.40,36.53 651.37,35.50 651.34,34.48 651.31,33.46 651.28,32.44 651.25,31.42 651.22,30.39 651.19,29.37 651.16,28.35 651.13,27.33 651.10,26.31 651.08,25.28 651.05,24.26 651.02,23.24 650.99,22.22" fill="none" stroke="#ff0000" stroke-width="1" stroke-dasharray="3.6,1.2,1.4,1.2"/>
<path d="M544.90,329.50v-3M544.90,18.80v3M579.30,329.50v-3M579.30,18.80v3M613.70,329.50v-3M613.70,18.80v3M648.10,329.50v-3M648.10,18.80v3M510.50,298.43h3M682.50,298.43h-3M510.50,267.36h3M682.50,267.36h-3M510.50,236.29h3M682.50,236.29h-3M510.50,205.22h3M682.50,205.22h-3M510.50,174.15h3M682.50,174.15h-3M510.50,143.08h3M682.50,143.08h-3M510.50,112.01h3M682.50,112.01h-3M510.50,80.94h3M682.50,80.94h-3M510.50,49.87h3M682.50,49.87h-3" stroke="#6a6a6a" stroke-width="1" fill="none"/>
<rect x="510.50" y="18.80" width="172.00" height="310.70" stroke="#6a6a6a" stroke-width="1" fill="none"/>
<text x="510.5" y="343.4" font-size="14" text-anchor="middle">0.7</text>
<text x="544.9" y="343.4" font-size="14" text-anchor="middle">0.8</text>
<text x="579.3" y="343.4" font-size="14" text-anchor="middle">0.9</text>
<text x="613.7" y="343.4" font-size="14" text-anchor="middle">1</text>
<text x="648.1" y="343.4" font-size="14" text-anchor="middle">1.1</text>
<text x="507.6" y="332.8" font-size="14" text-anchor="end">0</text>
<text x="507.6" y="301.7" font-size="14" text-anchor="end">0.1</text>
<text x="507.6" y="270.7" font-size="14" text-anchor="end">0.2</text>
<text x="507.6" y="239.6" font-size="14" text-anchor="end">0.3</text>
<text x="507.6" y="208.5" font-size="14" text-anchor="end">0.4</text>
<text x="507.6" y="177.5" font-size="14" text-anchor="end">0.5</text>
<text x="507.6" y="146.4" font-size="14" text-anchor="end">0.6</text>
<text x="507.6" y="115.3" font-size="14" text-anchor="end">0.7</text>
<text x="507.6" y="84.2" font-size="14" text-anchor="end">0.8</text>
<text x="507.6" y="53.2" font-size="14" text-anchor="end">0.9</text>
<text x="507.6" y="22.1" font-size="14" text-anchor="end">1</text>
<text x="587.5" y="13.8" font-size="16.5" textLength="17.9" lengthAdjust="spacingAndGlyphs">(b)</text>
<text x="579.2" y="361.7" font-size="16" textLength="34" lengthAdjust="spacingAndGlyphs"><tspan font-style="italic">U</tspan><tspan font-size="21" dy="2.6">/</tspan><tspan font-style="italic" dy="-2.6">V</tspan><tspan font-size="11.5" dy="2.5">0</tspan></text>
<text transform="translate(482.8,188.8) rotate(-90)" font-size="16" textLength="30" lengthAdjust="spacingAndGlyphs"><tspan font-style="italic">z</tspan><tspan font-size="21" dy="2.6">/</tspan><tspan font-style="italic" dy="-2.6">h</tspan><tspan font-size="11.5" dy="2.5">0</tspan></text>
<rect x="520.5" y="148.5" width="100" height="51" fill="#fff" stroke="#6a6a6a" stroke-width="1"/>
<path d="M524.2,158.2H550.2" stroke="#0000ff" stroke-width="1.1" stroke-dasharray="3.8,3.4"/>
<path d="M524.2,173.8H550.2" stroke="#ff00ff" stroke-width="1.2"/>
<path d="M524.2,189.8H550.2" stroke="#ff0000" stroke-width="1" stroke-dasharray="3.6,1.2,1.4,1.2"/>
<text x="553.3" y="161.2" font-size="13.5" textLength="39.3" lengthAdjust="spacingAndGlyphs">Q70_ke</text>
<text x="553.3" y="177.0" font-size="13.5" textLength="56.3" lengthAdjust="spacingAndGlyphs">Q70_RNG</text>
<text x="553.3" y="192.8" font-size="13.5" textLength="62.6" lengthAdjust="spacingAndGlyphs">Q70_koSST</text>
</svg></body></html>
